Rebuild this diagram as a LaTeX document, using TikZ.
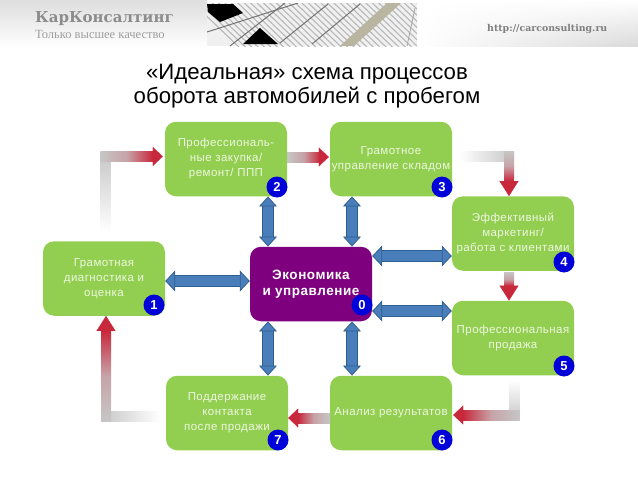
\documentclass[tikz,border=0pt]{standalone}
\usepackage{fontspec}
\setmainfont{Liberation Sans}
\newfontfamily\boxfont[LetterSpace=4]{Liberation Sans}
\newfontfamily\centerfont[LetterSpace=4]{Liberation Sans}
\newfontfamily\slabfont{DejaVu Serif}
\newfontfamily\headfont{Liberation Serif}
\usetikzlibrary{arrows.meta,calc,fadings}
\definecolor{boxgreen}{HTML}{92CF50}
\definecolor{boxpurple}{HTML}{7E007E}
\definecolor{badgeblue}{HTML}{0000D8}
\definecolor{linkblue}{HTML}{4A7EBB}
\definecolor{linkdark}{HTML}{2F5F8F}
\definecolor{fadegray}{HTML}{C6C6C6}
\definecolor{fadered}{HTML}{C8283C}
\definecolor{boxtext}{HTML}{EEF6E0}
\definecolor{picturetan}{HTML}{B9B5A0}
\tikzset{
  stepbox/.style={draw=none, fill=boxgreen, rounded corners=11pt, minimum width=122pt, minimum height=74.5pt,
    inner sep=0pt, align=center, text=boxtext, font=\boxfont\fontsize{11.5}{15}\selectfont},
  centerbox/.style={stepbox, fill=boxpurple, text=white, font=\centerfont\bfseries\fontsize{13.5}{16}\selectfont},
  badge/.style={circle, fill=badgeblue, text=white, minimum size=21pt, inner sep=0pt, font=\bfseries\fontsize{13}{13}\selectfont},
  bluelink/.style={draw=linkdark, line width=0.8pt, double=linkblue, double distance=9.5pt,
    {Triangle[width=21pt,length=10pt,fill=linkblue]}-{Triangle[width=21pt,length=10pt,fill=linkblue]}},
  bluelinkv/.style={draw=linkdark, line width=0.8pt, double=linkblue, double distance=9.5pt,
    {Triangle[width=18pt,length=10pt,fill=linkblue]}-{Triangle[width=18pt,length=10pt,fill=linkblue]}},
  redtip/.style={draw=fadered, line width=0.1pt, -{Triangle[width=19pt,length=10pt,fill=fadered]}},
  redtipv/.style={draw=fadered, line width=0.1pt, -{Triangle[width=19pt,length=15pt,fill=fadered]}},
  midfade/.style={middle color=fadered!22!fadegray}
}
\begin{document}
\begin{tikzpicture}[x=1pt, y=-1pt]
    \useasboundingbox (0,0) rectangle (638,479);
    % Header band
    \shade[top color=black!13, bottom color=white] (0,0) rectangle (207,48);
    \shade[top color=white, bottom color=black!15, path fading=west] (417,0) rectangle (638,47);
    % Header picture
    \begin{scope}
        \clip (207,3) rectangle (417,46);
        \fill[black!6] (207,3) rectangle (417,46);
        \foreach \i in {0,...,42}
            \draw[black!28, line width=1.1pt] ({190+\i*6.4},0) -- ++(52,50);
        \fill[black] (207,4) -- (233,4) -- (243,13) -- (220,22) -- (208,12) -- cycle;
        \fill[black] (243,44) -- (260,28) -- (278,44) -- cycle;
        \fill[picturetan] (340,46) -- (354,46) -- (401,3) -- (387,3) -- cycle;
        \draw[black!55, line width=1pt] (207,32) -- (298,3);
        \draw[black!55, line width=1pt] (230,46) -- (285,3);
        \draw[black!55, line width=1pt] (280,43) -- (328,4);
        \draw[black!55, line width=1pt] (312,44) -- (360,4);
        \draw[black!35, line width=0.8pt] (407,46) -- (415,8);
    \end{scope}
    % Header texts
    \node[anchor=west, inner sep=0pt, text=black!45, font=\slabfont\bfseries\fontsize{15}{15}\selectfont] (brand) at (35,19) {КарКонсалтинг};
    \node[anchor=west, inner sep=0pt, text=black!38, font=\headfont\fontsize{12.5}{12}\selectfont] (motto) at (35,34) {Только высшее качество};
    \node[anchor=west, inner sep=0pt, text=black!50, font=\slabfont\bfseries\fontsize{9.4}{10}\selectfont] (site) at (487,29) {http://carconsulting.ru};
    % Title
    \node[align=center, inner sep=0pt, font=\fontsize{22.2}{24.5}\selectfont] (title) at (307,86) {«Идеальная» схема процессов\\оборота автомобилей с пробегом};
    % Boxes
    \node[stepbox] (box1) at (104,278.5) {Грамотная\\диагностика и\\оценка};
    \node[stepbox] (box2) at (226,159) {Профессиональ-\\ные закупка/\\ремонт/ ППП};
    \node[stepbox] (box3) at (391,159) {Грамотное\\управление складом};
    \node[stepbox] (box4) at (513,233.5) {Эффективный\\маркетинг/\\работа с клиентами};
    \node[stepbox] (box5) at (513,338) {Профессиональная\\продажа};
    \node[stepbox] (box6) at (391,413) {Анализ результатов};
    \node[stepbox] (box7) at (227,413) {Поддержание\\контакта\\после продажи};
    \node[centerbox] (box0) at (311,284) {Экономика\\и управление};
    % Blue links
    \draw[bluelink] (box1.east |- 0,281) -- (box0.west |- 0,281);
    \draw[bluelinkv] ([shift={(42,0)}]box2.south) -- ([shift={(-43,0)}]box0.north);
    \draw[bluelinkv] ([shift={(-39,0)}]box3.south) -- ([shift={(41,0)}]box0.north);
    \draw[bluelink] (box0.east |- 0,256) -- (box4.west |- 0,256);
    \draw[bluelink] (box0.east |- 0,311) -- (box5.west |- 0,311);
    \draw[bluelinkv] ([shift={(-43,0)}]box0.south) -- ([shift={(41,0)}]box7.north);
    \draw[bluelinkv] ([shift={(41,0)}]box0.south) -- ([shift={(-39,0)}]box6.north);
    % Fading links
    \coordinate (c12) at (105.5,156.5);
    \coordinate (h12) at (153,156.5);
    \shade[top color=fadegray, bottom color=white] ($(c12)+(-5,-5)$) rectangle ($(c12)+(5,75)$);
    \shade[left color=fadegray, right color=fadered, midfade] ($(c12)+(-5,-5)$) rectangle ($(h12)+(0,5)$);
    \draw[redtip] (h12) -- ([shift={(-2,-2.5)}]box2.west);
    \coordinate (s23) at (287,157);
    \coordinate (h23) at (320,157);
    \shade[left color=fadegray, right color=fadered, midfade] ($(s23)+(0,-5)$) rectangle ($(h23)+(0,5)$);
    \draw[redtip] (h23) -- ([shift={(-1,-2)}]box3.west);
    \coordinate (c34) at (509,156);
    \coordinate (h34) at (509,181);
    \shade[left color=white, right color=fadegray] ($(c34)+(-50,-5)$) rectangle ($(c34)+(5,5)$);
    \shade[top color=fadegray, bottom color=fadered, midfade] ($(c34)+(-5,-5)$) rectangle ($(h34)+(5,0)$);
    \draw[redtipv] (h34) -- ([shift={(-4,0)}]box4.north);
    \coordinate (s45) at (509,272);
    \coordinate (h45) at (509,286);
    \shade[top color=fadegray, bottom color=fadered, midfade] ($(s45)+(-5,0)$) rectangle ($(h45)+(5,0)$);
    \draw[redtipv] (h45) -- ([shift={(-4,0)}]box5.north);
    \coordinate (c56) at (514.5,415);
    \coordinate (h56) at (463,415);
    \shade[top color=white, bottom color=fadegray] ($(c56)+(-5,-35)$) rectangle ($(c56)+(5,5)$);
    \shade[left color=fadered, right color=fadegray, midfade] ($(h56)+(0,-5)$) rectangle ($(c56)+(5,5)$);
    \draw[redtip] (h56) -- ([shift={(1,2)}]box6.east);
    \coordinate (s67) at (330,418);
    \coordinate (h67) at (298,418);
    \shade[left color=fadered, right color=fadegray, midfade] ($(h67)+(0,-5)$) rectangle ($(s67)+(0,5)$);
    \draw[redtip] (h67) -- ([shift={(0,5)}]box7.east);
    \coordinate (c71) at (106,416);
    \coordinate (h71) at (106,331);
    \shade[left color=fadegray, right color=white] ($(c71)+(-5,-5)$) rectangle ($(c71)+(54,5)$);
    \shade[top color=fadered, bottom color=fadegray, midfade] ($(h71)+(-5,0)$) rectangle ($(c71)+(5,5)$);
    \draw[redtipv] (h71) -- ([shift={(2,0)}]box1.south);
    % Badges
    \node[badge] (num1) at (154,305) {1};
    \node[badge] (num2) at (277,187) {2};
    \node[badge] (num3) at (442,187) {3};
    \node[badge] (num4) at (564,262) {4};
    \node[badge] (num5) at (564,366) {5};
    \node[badge] (num6) at (442,440) {6};
    \node[badge] (num7) at (278,440) {7};
    \node[badge] (num0) at (362,305) {0};
\end{tikzpicture}
\end{document}
